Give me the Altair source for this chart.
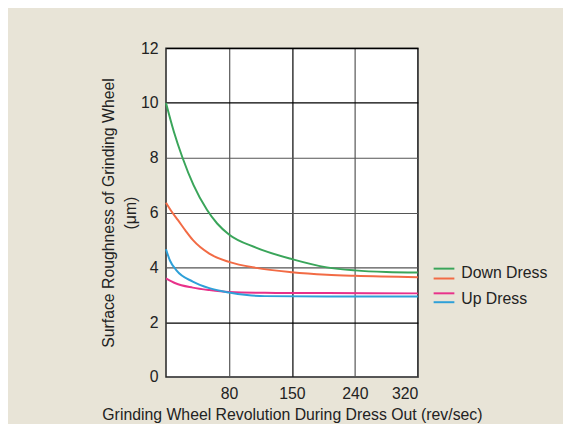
import altair as alt
import pandas as pd

# Data
green_x = [0, 10, 21, 35, 52, 65, 80, 110, 150, 200, 240, 280, 320]
green_y = [10.0, 8.95, 8.0, 7.0, 6.1, 5.6, 5.2, 4.72, 4.3, 4.0, 3.89, 3.83, 3.81]

orange_x = [0, 8, 15, 25, 34, 55, 80, 110, 150, 200, 240, 320]
orange_y = [6.36, 6.0, 5.73, 5.33, 5.0, 4.5, 4.2, 3.98, 3.82, 3.73, 3.69, 3.64]

pink_x = [0, 12, 34, 55, 80, 120, 200, 320]
pink_y = [3.6, 3.42, 3.26, 3.17, 3.1, 3.07, 3.06, 3.05]

blue_x = [0, 5, 13, 34, 55, 80, 100, 120, 200, 320]
blue_y = [4.66, 4.25, 3.9, 3.48, 3.24, 3.08, 2.99, 2.95, 2.94, 2.94]

series = [
    ("Down Dress A", green_x, green_y, "#3aa55a"),
    ("Down Dress B", orange_x, orange_y, "#f26b45"),
    ("Up Dress A", pink_x, pink_y, "#e8318a"),
    ("Up Dress B", blue_x, blue_y, "#2ea0d8"),
]

x_ticks = [80, 150, 240, 320]
y_ticks = [0, 2, 4, 6, 8, 10, 12]

W, H = 255, 333
FONT = "Liberation Sans"
BG = "#e8e4d7"

rows = []
for name, xs, ys, col in series:
    for xv, yv in zip(xs, ys):
        rows.append({"series": name, "x": xv, "y": yv})
df = pd.DataFrame(rows)

x_scale = alt.Scale(domain=[0, 80, 150, 240, 320],
                    range=[0, W * 0.25, W * 0.5, W * 0.75, W])
y_scale = alt.Scale(domain=[0, 12], nice=False)

lines = alt.Chart(df).mark_line(strokeWidth=2, interpolate="monotone").encode(
    x=alt.X("x:Q", scale=x_scale,
            axis=alt.Axis(values=x_ticks, ticks=False, labelPadding=9,
                          title="Grinding Wheel Revolution During Dress Out (rev/sec)",
                          titlePadding=5,
                          gridColor={"condition": {"test": "datum.value == 150", "value": "#000000"}, "value": "#555555"})),
    y=alt.Y("y:Q", scale=y_scale,
            axis=alt.Axis(values=y_ticks, ticks=False, labelPadding=8,
                          title=["Surface Roughness of Grinding Wheel", "(μm)"],
                          titlePadding=2, titleLineHeight=22,
                          gridColor={"condition": {"test": "datum.value == 2 || datum.value == 10 || datum.value == 12", "value": "#000000"}, "value": "#555555"})),
    color=alt.Color("series:N",
                    scale=alt.Scale(domain=[s[0] for s in series], range=[s[3] for s in series]),
                    legend=None),
)

one = pd.DataFrame({"a": [0]})

def leg_line(y, color):
    return alt.Chart(one).mark_rule(strokeWidth=2, color=color).encode(
        x=alt.value(271), x2=alt.value(292), y=alt.value(y))

def leg_text(y, txt):
    return alt.Chart(one).mark_text(align="left", baseline="middle", font=FONT,
                                    fontSize=16, color="#222222").encode(
        x=alt.value(299), y=alt.value(y), text=alt.value(txt))

legend = [
    leg_line(223.3, "#3aa55a"), leg_line(233.3, "#f26b45"),
    leg_line(248.3, "#e8318a"), leg_line(257.3, "#2ea0d8"),
    leg_text(228, "Down Dress"), leg_text(254, "Up Dress"),
]

chart = alt.layer(lines, *legend).properties(
    width=W, height=H,
    background=BG,
    padding={"left": 160, "top": 38, "right": 147, "bottom": 45},
    autosize=alt.AutoSizeParams(type="none"),
).configure_view(
    stroke="#222222", strokeWidth=1.5, fill="white"
).configure_axis(
    labelFont=FONT, titleFont=FONT, labelFontSize=16, titleFontSize=16,
    labelColor="#222222", titleColor="#222222", titleFontWeight="normal",
    domain=False, gridOpacity=1, gridWidth=1.2,
)

chart.save("out.html", embed_options={"renderer": "svg", "actions": False})
